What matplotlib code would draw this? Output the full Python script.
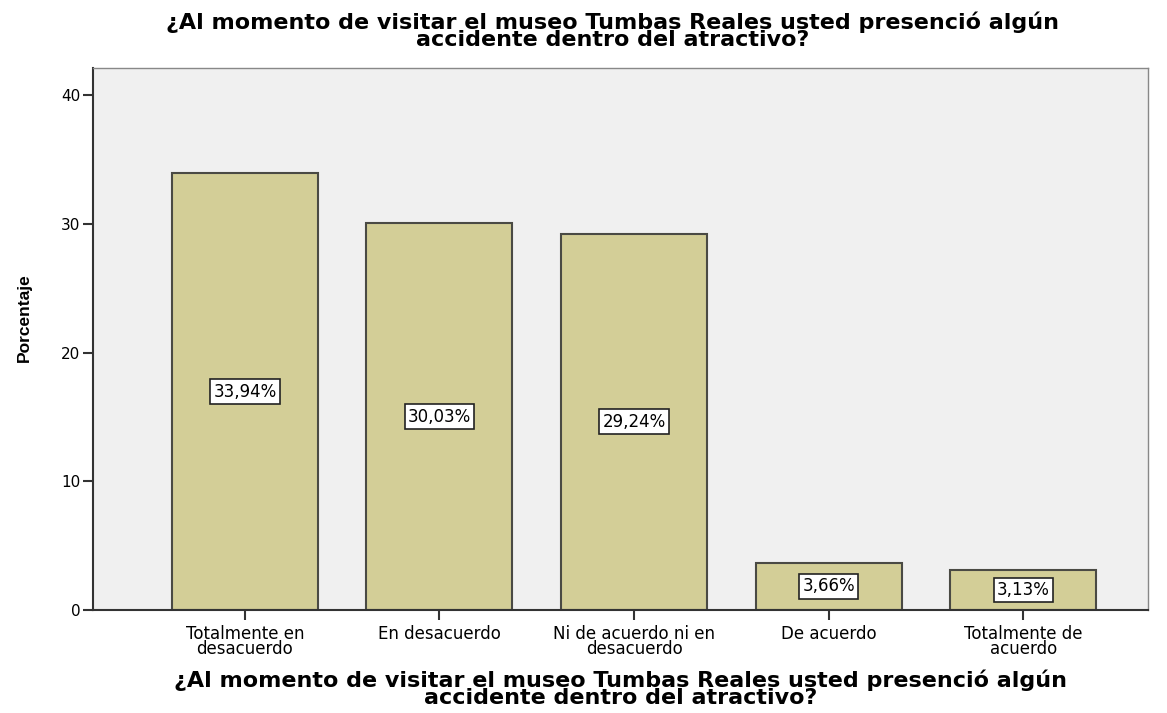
import numpy as np
import matplotlib.pyplot as plt

categories = ["Totalmente en\ndesacuerdo", "En desacuerdo", "Ni de acuerdo ni en\ndesacuerdo",
              "De acuerdo", "Totalmente de\nacuerdo"]
values = [33.94, 30.03, 29.24, 3.66, 3.13]
labels = ["33,94%", "30,03%", "29,24%", "3,66%", "3,13%"]
yticks = [0, 10, 20, 30, 40]
question = "¿Al momento de visitar el museo Tumbas Reales usted presenció algún\naccidente dentro del atractivo?"

fig = plt.figure(figsize=(11.67, 7.13), dpi=100)
ax = fig.add_axes([93 / 1167, 1 - 610 / 713, (1148 - 93) / 1167, (610 - 68) / 713])
ax.set_facecolor("#f0f0f0")

x = np.arange(len(values))
ax.bar(x, values, width=0.75, color="#d3ce97", edgecolor="#4a4a44", linewidth=1.5, zorder=2)
for xi, v, lab in zip(x, values, labels):
    ax.text(xi, v / 2, lab, ha="center", va="center", fontsize=12, family="DejaVu Sans",
            bbox=dict(boxstyle="square,pad=0.2", facecolor="white", edgecolor="#222222", linewidth=1.2),
            zorder=3)

ax.set_xlim(-0.78, 4.64)
ax.set_ylim(0, 42.1)
ax.set_xticks(x)
ax.set_xticklabels(categories, fontsize=12, family="DejaVu Sans", linespacing=0.85)
ax.set_yticks(yticks)
ax.set_yticklabels([str(t) for t in yticks], fontsize=11, family="DejaVu Sans")
ax.tick_params(axis="both", length=7, width=1.5, color="#333333")
ax.tick_params(axis="y", pad=2)
for side in ["left", "bottom"]:
    ax.spines[side].set_linewidth(1.5)
    ax.spines[side].set_color("#333333")
for side in ["top", "right"]:
    ax.spines[side].set_linewidth(1)
    ax.spines[side].set_color("#888888")

ax.set_ylabel("Porcentaje", fontsize=12.5, fontweight="bold", family="Liberation Sans")
ax.yaxis.set_label_coords(-0.058, 0.54)
ax.set_xlabel(question, fontsize=16, fontweight="bold", family="DejaVu Sans", linespacing=0.8, labelpad=8)
fig.text(613 / 1167, 1 - 31 / 713, question, ha="center", va="center", fontsize=16, fontweight="bold",
         family="DejaVu Sans", linespacing=0.8)

fig.savefig("out.png", dpi=100)
